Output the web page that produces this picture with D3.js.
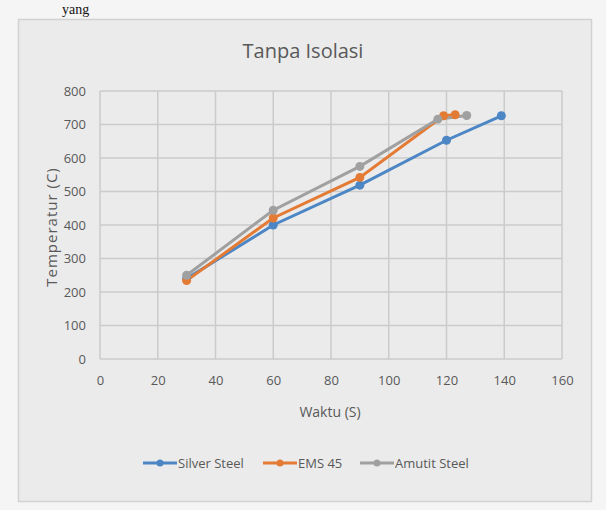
<!DOCTYPE html>
<html><head><meta charset="utf-8">
<script src="https://cdn.jsdelivr.net/npm/d3@7"></script>
<style>
html,body{margin:0;padding:0;background:#f4f4f4;}
svg{display:block;}
</style></head>
<body>
<script>
const xTicks = [0,20,40,60,80,100,120,140,160];
const yTicks = [0,100,200,300,400,500,600,700,800];
const silverX = [30,60,90,120,139];
const silverY = [240,400,519,653,726];
const emsX = [30,60,90,119,123];
const emsY = [234,421,542,726,729];
const amutitX = [30,60,90,117,127];
const amutitY = [250,444,575,716,727];
const seriesNames = ["Silver Steel","EMS 45","Amutit Steel"];
const colors = ["#4d86c4","#e37b35","#a0a0a0"];

const W=606,H=510;
const svg=d3.select("body").append("svg").attr("width",W).attr("height",H);
svg.append("rect").attr("width",W).attr("height",H).attr("fill","#f5f5f5");
svg.append("text").attr("x",62).attr("y",14).attr("font-family","Liberation Serif").attr("font-size",14).attr("fill","#111").text("yang");
svg.append("rect").attr("x",18.5).attr("y",19.5).attr("width",573).attr("height",482)
  .attr("fill","#ebebeb").attr("stroke","#d2d2d2").attr("stroke-width",1.5);

const font="'Open Sans',sans-serif";
const x=d3.scaleLinear().domain([0,160]).range([100,562]);
const y=d3.scaleLinear().domain([0,800]).range([359,91]);

const g=svg.append("g");
g.selectAll(".hg").data(yTicks).join("line").attr("x1",x(0)).attr("x2",x(160))
  .attr("y1",d=>y(d)).attr("y2",d=>y(d)).attr("stroke","#cbcbcb").attr("stroke-width",1.5);
g.selectAll(".vg").data(xTicks).join("line").attr("y1",y(0)).attr("y2",y(800))
  .attr("x1",d=>x(d)).attr("x2",d=>x(d)).attr("stroke","#cbcbcb").attr("stroke-width",1.5);

const xa=svg.append("g").attr("transform",`translate(0,${y(0)})`)
  .call(d3.axisBottom(x).tickValues(xTicks).tickSize(0).tickPadding(17));
const ya=svg.append("g").attr("transform",`translate(${x(0)},0)`)
  .call(d3.axisLeft(y).tickValues(yTicks).tickSize(0).tickPadding(14));
[xa,ya].forEach(a=>{a.select(".domain").remove();
  a.selectAll("text").attr("font-family",font).attr("font-size",13).attr("fill","#595959");});

svg.append("text").attr("x",303).attr("y",58).attr("text-anchor","middle")
  .attr("font-family",font).attr("font-size",20).attr("fill","#595959").text("Tanpa Isolasi");
svg.append("text").attr("x",330).attr("y",417).attr("text-anchor","middle")
  .attr("font-family",font).attr("font-size",14).attr("fill","#595959").text("Waktu (S)");
svg.append("text").attr("transform","translate(57,227) rotate(-90)").attr("text-anchor","middle")
  .attr("font-family",font).attr("font-size",15).attr("letter-spacing",1).attr("fill","#595959").text("Temperatur (C)");

const data=[silverX.map((v,i)=>[v,silverY[i]]),emsX.map((v,i)=>[v,emsY[i]]),amutitX.map((v,i)=>[v,amutitY[i]])];
const line=d3.line().x(d=>x(d[0])).y(d=>y(d[1]));
data.forEach((s,i)=>{
  svg.append("path").datum(s).attr("d",line).attr("fill","none").attr("stroke",colors[i]).attr("stroke-width",3);
});
data.forEach((s,i)=>{
  svg.selectAll(null).data(s).join("circle").attr("cx",d=>x(d[0])).attr("cy",d=>y(d[1])).attr("r",4.5).attr("fill",colors[i]);
});

const legX=[143,263,360];
seriesNames.forEach((n,i)=>{
  const lg=svg.append("g").attr("transform",`translate(${legX[i]},463)`);
  lg.append("line").attr("x1",0).attr("x2",34).attr("y1",0).attr("y2",0).attr("stroke",colors[i]).attr("stroke-width",3);
  lg.append("circle").attr("cx",17).attr("cy",0).attr("r",3.5).attr("fill",colors[i]);
  lg.append("text").attr("x",35).attr("y",5).attr("font-family",font).attr("font-size",13).attr("fill","#595959").text(n);
});
</script>
</body></html>
